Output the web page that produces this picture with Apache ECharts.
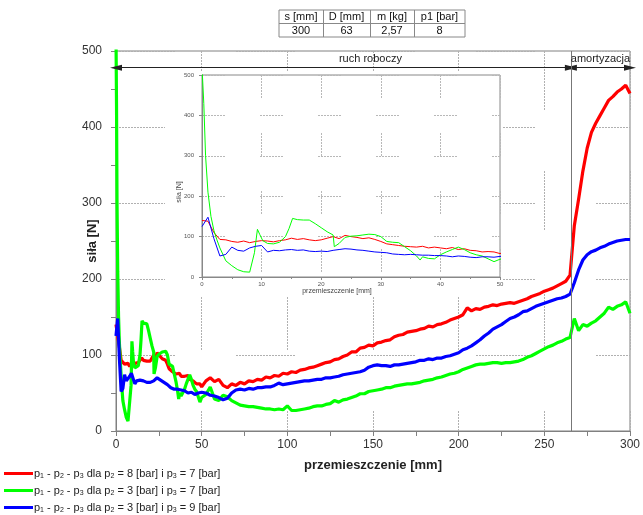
<!DOCTYPE html>
<html><head><meta charset="utf-8">
<script src="https://cdn.jsdelivr.net/npm/echarts@6/dist/echarts.min.js"></script>
<style>html,body{margin:0;padding:0;background:#fff}#c{width:643px;height:515px}</style>
</head><body><div id="c"></div>
<script>
// ---------- DATA ----------
const seriesNames = [
  'p1 - p2 - p3 dla p2 = 8 [bar] i p3 = 7 [bar]',
  'p1 - p2 - p3 dla p2 = 3 [bar] i p3 = 7 [bar]',
  'p1 - p2 - p3 dla p2 = 3 [bar] i p3 = 9 [bar]'
];
const seriesColors = ['#ff0000', '#00ff00', '#0000ff'];

const tableHeaders = ['s [mm]', 'D [mm]', 'm [kg]', 'p1 [bar]'];
const tableValues = ['300', '63', '2,57', '8'];

const xTicksMain = [0, 50, 100, 150, 200, 250, 300];
const yTicksMain = [0, 100, 200, 300, 400, 500];

const phaseBoundary = 265.5;       // end of "ruch roboczy"
const phaseLabels = ['ruch roboczy', 'amortyzacja'];
const arrowLevel = 478;

// fine grid 0..50 mm (red, blue)
const xFine = [0,1,2,3,4,5,6,7,8,9,10,11,12,13,14,15,16,17,18,19,20,21,22,23,24,25,26,27,28,29,30,31,32,33,34,35,36,37,38,39,40,41,42,43,44,45,46,47,48,49,50];
const redFine = [140,138,110,93,92,88,86,89,85,88,
  90,89,87,90,92,96,93,95,92,90,
  92,96,100,95,103,100,98,95,97,93,
  88,82,80,78,76,75,74,76,72,74,
  72,70,73,68,70,66,65,62,63,62,
  58];
const blueFine = [125,148,95,52,56,74,66,64,72,76,
  78,62,66,65,67,68,66,67,64,63,
  64,63,66,68,70,69,67,66,64,62,
  61,60,57,56,55,56,55,54,54,53,
  53,52,50,52,51,49,48,50,50,49,
  51];
// green start has its own sampling
const greenFineX = [0,0.3,0.6,1,1.5,2,2.5,3,4,5,6,7,8,8.8,9.3,9.7,10.2,11,12,13,14,14.6,15.2,16,17,18,19,20,21,22,22.2,23,24,25,26,27,28,29,30,31,32,33,34,35,36,36.6,37,38,39,40,41,42,43,44,45,46,47,48,49,50];
const greenFine = [520,430,300,210,150,115,92,72,40,28,18,13,12,60,118,105,90,83,82,86,100,120,145,142,141,141,132,122,112,104,75,83,98,101,102,104,106,105,100,88,86,85,75,65,52,42,50,46,45,55,62,68,74,68,60,55,52,45,38,44];

// coarse grid 52.5..300 mm
const xCoarse = [52.5,55,57.5,60,62.5,65,67.5,70,72.5,75,
  77.5,80,82.5,85,87.5,90,92.5,95,97.5,100,
  102.5,105,107.5,110,112.5,115,117.5,120,122.5,125,
  127.5,130,132.5,135,137.5,140,142.5,145,147.5,150,
  152.5,155,157.5,160,162.5,165,167.5,170,172.5,175,
  177.5,180,182.5,185,187.5,190,192.5,195,197.5,200,
  202.5,205,207.5,210,212.5,215,217.5,220,222.5,225,
  227.5,230,232.5,235,237.5,240,242.5,245,247.5,250,
  252.5,255,257.5,260,262.5,265,267.5,270,272.5,275,
  277.5,280,282.5,285,287.5,290,292.5,295,297.5,300];
const redCoarse = [66,70,65,68,60,57,62,60,64,62,
  66,65,68,67,71,70,73,72,76,75,
  78,77,80,81,83,84,86,88,90,91,
  94,95,98,100,104,104,109,110,113,112,
  116,117,119,120,124,126,127,130,131,132,
  134,135,138,137,140,141,143,146,148,150,
  153,162,158,161,160,163,164,166,165,167,
  168,169,168,170,172,174,177,179,181,184,
  186,188,191,194,197,205,270,305,342,372,
  393,405,415,425,435,440,446,450,455,444];
const blueCoarse = [50,47,46,44,41,43,50,54,55,54,
  56,55,57,57,58,58,60,63,61,62,
  63,64,65,66,66,67,68,68,70,70,
  71,72,74,75,76,77,78,80,84,86,
  87,86,86,85,87,87,88,89,90,91,
  93,93,95,94,96,96,98,99,101,103,
  107,109,112,116,120,125,129,134,137,140,
  144,148,150,153,157,158,161,164,166,168,
  170,172,174,175,177,180,195,212,225,232,
  236,238,241,243,246,248,250,251,252,252];
const greenCoarse = [48,58,42,40,47,45,40,37,34,33,
  32,32,31,30,29,29,28,29,28,33,
  27,27,28,29,30,32,33,33,35,36,
  40,38,41,42,44,46,49,49,52,53,
  54,55,57,57,59,60,61,62,62,63,
  64,66,67,68,70,71,73,75,76,78,
  81,83,85,87,88,88,89,90,90,89,
  90,90,91,92,94,97,99,102,105,108,
  111,113,116,118,121,123,148,132,140,138,
  142,145,150,155,163,160,164,166,170,155];

// ---------- BUILD ----------
function zip(xs, ys) { return xs.map((x, i) => [x, ys[i]]); }
const redData = zip(xFine, redFine).concat(zip(xCoarse, redCoarse));
const greenData = zip(greenFineX, greenFine).concat(zip(xCoarse, greenCoarse));
const blueData = zip(xFine, blueFine).concat(zip(xCoarse, blueCoarse));
const allData = [redData, greenData, blueData];

function dotted(seg, gap) {
  const a = [];
  for (let i = 0; i < seg; i += 3) a.push(2, 1);
  a[a.length - 1] += gap;
  return a;
}
const FONT = 'Liberation Sans, Arial, sans-serif';
const axisGray = '#808080';

const mainSeries = allData.map((d, i) => ({
  name: seriesNames[i], type: 'line', xAxisIndex: 0, yAxisIndex: 0,
  data: d, showSymbol: false, symbol: 'none', clip: true, z: 2,
  lineStyle: { color: seriesColors[i], width: 3.2 }, itemStyle: { color: seriesColors[i] },
  emphasis: { disabled: true }
}));
mainSeries[0].markLine = {
  silent: true, animation: false, symbol: ['triangle', 'triangle'], symbolSize: [6, 12],
  lineStyle: { color: '#222', width: 1, type: 'solid' },
  label: { show: true, position: 'insideMiddleTop', color: '#222', fontSize: 11, fontFamily: FONT, distance: 3 },
  data: [
    [{ coord: [0, arrowLevel], label: { formatter: phaseLabels[0], offset: [27, 0] } }, { coord: [phaseBoundary, arrowLevel] }],
    [{ coord: [phaseBoundary, arrowLevel], label: { formatter: phaseLabels[1] } }, { coord: [300, arrowLevel] }]
  ],
  itemStyle: { color: '#000' }
};
mainSeries[2].markLine = {
  silent: true, animation: false, symbol: 'none',
  lineStyle: { color: '#777', width: 1, type: 'solid' }, label: { show: false },
  data: [{ xAxis: phaseBoundary }]
};

const insetSeries = allData.map((d, i) => ({
  name: seriesNames[i], type: 'line', xAxisIndex: 1, yAxisIndex: 1,
  data: d, showSymbol: false, symbol: 'none', clip: true, z: 6,
  lineStyle: { color: seriesColors[i], width: 1 }, itemStyle: { color: seriesColors[i] },
  emphasis: { disabled: true }
}));

// table graphic
const colEdges = [279, 323, 370, 414, 465];
const rowEdges = [10, 23, 37];
const tableG = [];
tableG.push({ type: 'rect', shape: { x: colEdges[0], y: rowEdges[0], width: colEdges[4] - colEdges[0], height: rowEdges[2] - rowEdges[0] }, style: { fill: '#fff', stroke: '#888', lineWidth: 1 }, z: 10 });
tableG.push({ type: 'line', shape: { x1: colEdges[0], y1: rowEdges[1] + 0.5, x2: colEdges[4], y2: rowEdges[1] + 0.5 }, style: { stroke: '#888', lineWidth: 1 }, z: 10 });
for (let c = 1; c < 4; c++) tableG.push({ type: 'line', shape: { x1: colEdges[c] + 0.5, y1: rowEdges[0], x2: colEdges[c] + 0.5, y2: rowEdges[2] }, style: { stroke: '#888', lineWidth: 1 }, z: 10 });
for (let c = 0; c < 4; c++) {
  const cx = (colEdges[c] + colEdges[c + 1]) / 2;
  tableG.push({ type: 'text', x: cx, y: (rowEdges[0] + rowEdges[1]) / 2 + 0.5, style: { text: tableHeaders[c], fill: '#111', font: '11px ' + FONT, align: 'center', verticalAlign: 'middle' }, z: 11 });
  tableG.push({ type: 'text', x: cx, y: (rowEdges[1] + rowEdges[2]) / 2 + 0.5, style: { text: tableValues[c], fill: '#111', font: '11px ' + FONT, align: 'center', verticalAlign: 'middle' }, z: 11 });
}
// white backing of the inset
tableG.push({ type: 'rect', shape: { x: 165, y: 72, width: 338, height: 225 }, style: { fill: '#fff' }, z: 3, silent: true });

const legends = seriesNames.map((n, i) => ({
  orient: 'vertical', left: 4, top: 467 + i * 17, itemWidth: 29, itemHeight: 3,
  icon: 'rect', data: [n], selectedMode: false, padding: 0,
  formatter: s => s.replace(/p(\d)/g, 'p{sub|$1}'),
  textStyle: { fontSize: 11, color: '#222', fontFamily: FONT, lineHeight: 13, padding: [0, 0, 0, -4],
    rich: { sub: { fontSize: 7, lineHeight: 7, padding: [6, 0, 0, 0], fontFamily: FONT, color: '#222', verticalAlign: 'bottom' } } }
}));

const option = {
  animation: false,
  backgroundColor: '#fff',
  textStyle: { fontFamily: FONT },
  graphic: tableG,
  legend: legends,
  grid: [
    { left: 116, top: 51, width: 516, height: 380, show: true, borderColor: axisGray, borderWidth: 1, backgroundColor: 'transparent', z: 0 },
    { left: 202, top: 75, width: 298, height: 202, show: true, borderColor: '#888', borderWidth: 1, backgroundColor: 'transparent', z: 4 }
  ],
  xAxis: [
    { gridIndex: 0, type: 'value', min: xTicksMain[0], max: xTicksMain[xTicksMain.length - 1], interval: 50,
      axisLine: { show: true, onZero: false, lineStyle: { color: axisGray } },
      axisTick: { show: true, length: 5, lineStyle: { color: axisGray } },
      minorTick: { show: true, splitNumber: 2, length: 5, lineStyle: { color: axisGray } },
      axisLabel: { fontSize: 12, color: '#333', margin: 8 },
      splitLine: { show: true, lineStyle: { color: '#b0b0b0', type: dotted(60, 60) } },
      name: 'przemieszczenie [mm]', nameLocation: 'middle', nameGap: 28, nameMoveOverlap: false,
      nameTextStyle: { fontSize: 13, fontWeight: 'bold', color: '#222' } },
    { gridIndex: 1, type: 'value', min: 0, max: 50, interval: 10, z: 5,
      axisLine: { show: true, onZero: false, lineStyle: { color: '#888' } },
      axisTick: { show: true, length: 3, lineStyle: { color: '#888' } },
      minorTick: { show: true, splitNumber: 2, length: 2, lineStyle: { color: '#888' } },
      axisLabel: { fontSize: 6, color: '#555', margin: 4 },
      splitLine: { show: true, lineStyle: { color: '#b8b8b8', type: dotted(24, 34) } },
      name: 'przemieszczenie [mm]', nameLocation: 'middle', nameGap: 11, nameMoveOverlap: false,
      nameTextStyle: { fontSize: 7, color: '#444', padding: [0, 28, 0, 0] } }
  ],
  yAxis: [
    { gridIndex: 0, type: 'value', min: yTicksMain[0], max: yTicksMain[yTicksMain.length - 1], interval: 100,
      axisLine: { show: true, onZero: false, lineStyle: { color: axisGray } },
      axisTick: { show: true, length: 5, lineStyle: { color: axisGray } },
      minorTick: { show: true, splitNumber: 2, length: 5, lineStyle: { color: axisGray } },
      axisLabel: { fontSize: 12, color: '#333', margin: 14 },
      splitLine: { show: true, lineStyle: { color: '#b0b0b0', type: dotted(60, 60) } },
      name: 'siła [N]', nameLocation: 'middle', nameGap: 17, nameMoveOverlap: false,
      nameTextStyle: { fontSize: 13, fontWeight: 'bold', color: '#222' } },
    { gridIndex: 1, type: 'value', min: 0, max: 500, interval: 100, z: 5,
      axisLine: { show: true, onZero: false, lineStyle: { color: '#888' } },
      axisTick: { show: true, length: 3, lineStyle: { color: '#888' } },
      minorTick: { show: false },
      axisLabel: { fontSize: 6, color: '#555', margin: 8 },
      splitLine: { show: true, lineStyle: { color: '#b8b8b8', type: dotted(24, 34) } },
      name: 'siła [N]', nameLocation: 'middle', nameGap: 19, nameMoveOverlap: false,
      nameTextStyle: { fontSize: 7, color: '#444', padding: [0, 32, 0, 0] } }
  ],
  series: mainSeries.concat(insetSeries)
};
const chart = echarts.init(document.getElementById('c'), null, { renderer: 'canvas' });
chart.setOption(option);
</script>
</body></html>
